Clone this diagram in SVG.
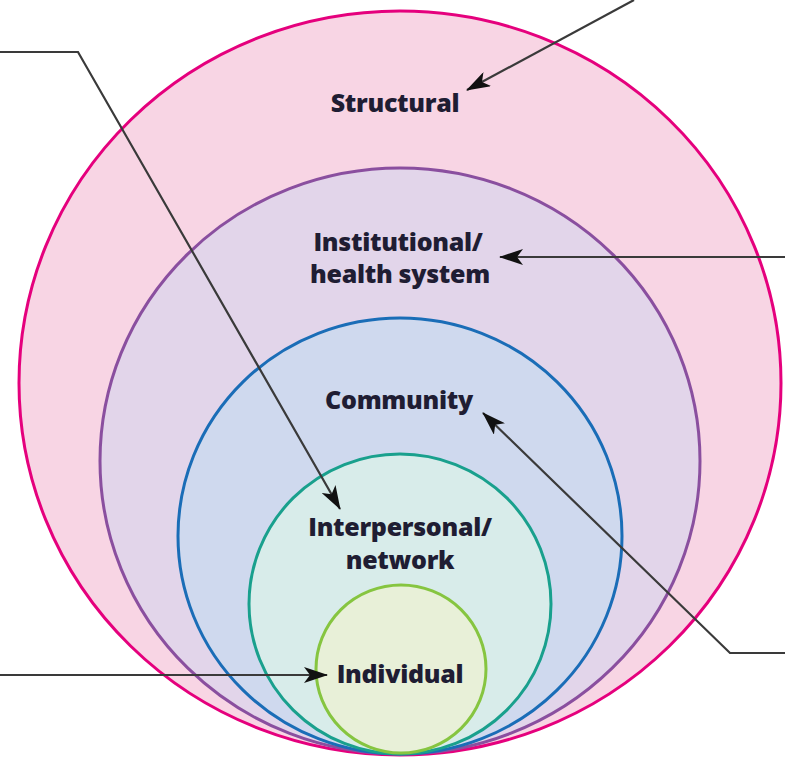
<svg xmlns="http://www.w3.org/2000/svg" width="785" height="758" viewBox="0 0 785 758">
<defs>
<style>
.lbl{font-family:"Open Sans","Liberation Sans",sans-serif;font-weight:800;font-size:25px;fill:#1f1d33;text-anchor:middle;letter-spacing:-0.3px}
.ring{stroke-width:3}
.con{fill:none;stroke:#3a3a3a;stroke-width:2.2}
</style>
<marker id="ah" viewBox="0 0 24 16" refX="23" refY="8" markerWidth="24" markerHeight="16" markerUnits="userSpaceOnUse" orient="auto">
<path d="M0,0 L24,8 L0,16 L6,8 Z" fill="#111"/>
</marker>
</defs>
<rect width="785" height="758" fill="#fff"/>
<g id="structural">
<ellipse class="ring" cx="400" cy="383" rx="381" ry="372" fill="#f8d5e4" stroke="#e5007d"/>
<text class="lbl" x="395" y="112">Structural</text>
</g>
<g id="institutional">
<ellipse class="ring" cx="400" cy="461" rx="300" ry="293" fill="#e2d5ea" stroke="#8a4f9f"/>
<text class="lbl" x="398" y="251">Institutional/</text>
<text class="lbl" x="400" y="283">health system</text>
</g>
<g id="community">
<ellipse class="ring" cx="400" cy="536" rx="222" ry="218" fill="#cfd9ee" stroke="#1a6db7"/>
<text class="lbl" x="399" y="409">Community</text>
</g>
<g id="interpersonal">
<ellipse class="ring" cx="400" cy="604" rx="151" ry="150" fill="#d8ecea" stroke="#19a08d"/>
<text class="lbl" x="400" y="536">Interpersonal/</text>
<text class="lbl" x="400" y="569">network</text>
</g>
<g id="individual">
<ellipse class="ring" cx="401" cy="669" rx="85" ry="84" fill="#e8f0d8" stroke="#86c540"/>
<text class="lbl" x="400" y="683">Individual</text>
</g>
<g id="connectors">
<polyline class="con" points="0,52 78,52 340,509" marker-end="url(#ah)"/>
<polyline class="con" points="634,0 467,90" marker-end="url(#ah)"/>
<polyline class="con" points="785,257 500,257" marker-end="url(#ah)"/>
<polyline class="con" points="785,653 730,653 483,413" marker-end="url(#ah)"/>
<polyline class="con" points="0,675 327,675" marker-end="url(#ah)"/>
</g>
</svg>
